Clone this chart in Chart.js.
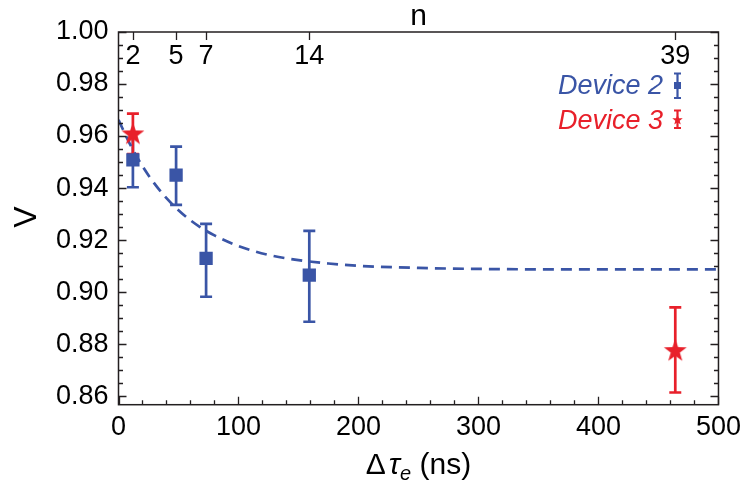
<!DOCTYPE html>
<html><head><meta charset="utf-8">
<script src="https://cdn.jsdelivr.net/npm/chart.js@4"></script>
<style>html,body{margin:0;padding:0;background:#fff}#wrap{width:748px;height:496px}</style>
</head><body><div id="wrap"><canvas id="c" width="748" height="496"></canvas></div>
<script>
// ---- data ----
const device2X  = [12, 48, 73, 159];
const device2V  = [0.9508, 0.9450, 0.9130, 0.9065];
const device2Lo = [0.9403, 0.9335, 0.8982, 0.8886];
const device2Hi = [0.9613, 0.9559, 0.9262, 0.9235];

const device3X  = [12, 464];
const device3V  = [0.9610, 0.8777];
const device3Lo = [0.9531, 0.8614];
const device3Hi = [0.9686, 0.8941];

const fitX = [0, 10, 20, 30, 40, 50, 60, 70, 80, 100, 125, 150, 175, 200, 250, 300, 400, 500];
const fitV = [0.9662, 0.9565, 0.9484, 0.9417, 0.9361, 0.9315, 0.9276, 0.9244, 0.9218, 0.9177, 0.9143, 0.9123, 0.9110, 0.9101, 0.9093, 0.9089, 0.9087, 0.9087];

const nLabels = ['2', '5', '7', '14', '39'];
const nX      = [12, 48, 73, 159, 464];

const xTicks = [0, 100, 200, 300, 400, 500];
const yTicks = [0.86, 0.88, 0.90, 0.92, 0.94, 0.96, 0.98, 1.00];

const legendNames = ['Device 2', 'Device 3'];

// ---- styling ----
const BLUE = '#3a55a6';
const RED = '#e8202a';
const AXIS = '#231f20';
const FONT = '"Liberation Sans", Arial, Helvetica, sans-serif';
const TICK_PX = 27;
const TITLE_PX = 30;

function starPath(ctx, cx, cy, R, r) {
  ctx.beginPath();
  for (let i = 0; i < 10; i++) {
    const a = -Math.PI / 2 + i * Math.PI / 5;
    const rad = (i % 2) ? r : R;
    ctx.lineTo(cx + rad * Math.cos(a), cy + rad * Math.sin(a));
  }
  ctx.closePath();
}
const starImg = document.createElement('canvas');
starImg.width = 26; starImg.height = 26;
(function () {
  const g = starImg.getContext('2d');
  g.fillStyle = RED;
  starPath(g, 13, 14, 12, 4.8);
  g.fill();
})();

const pts = (xs, ys) => xs.map((x, i) => ({ x: x, y: ys[i] }));

const framePlugin = {
  id: 'frame',
  beforeDatasetsDraw(chart) {
    const ctx = chart.ctx, xs = chart.scales.x, ys = chart.scales.y;
    const bars = [
      [device2X, device2Lo, device2Hi, BLUE],
      [device3X, device3Lo, device3Hi, RED]
    ];
    ctx.save();
    ctx.lineWidth = 2.7;
    ctx.lineCap = 'butt';
    bars.forEach(([X, L, H, col]) => {
      ctx.strokeStyle = col;
      X.forEach((xv, i) => {
        const px = xs.getPixelForValue(xv);
        const pl = ys.getPixelForValue(L[i]);
        const ph = ys.getPixelForValue(H[i]);
        ctx.beginPath();
        ctx.moveTo(px, pl); ctx.lineTo(px, ph);
        ctx.moveTo(px - 6, pl); ctx.lineTo(px + 6, pl);
        ctx.moveTo(px - 6, ph); ctx.lineTo(px + 6, ph);
        ctx.stroke();
      });
    });
    ctx.restore();
  },
  afterDraw(chart) {
    const ctx = chart.ctx, a = chart.chartArea, xs = chart.scales.x, ys = chart.scales.y;
    ctx.save();
    // frame
    ctx.strokeStyle = AXIS;
    ctx.lineWidth = 1.5;
    ctx.strokeRect(a.left, a.top, a.right - a.left, a.bottom - a.top);
    ctx.lineWidth = 1.3;
    ctx.beginPath();
    // y ticks (left and right), majors every 0.02, minors every 0.005
    for (let k = 0; k <= 29; k++) {
      const v = 0.855 + k * 0.005;
      if (v < ys.min - 1e-9 || v > ys.max + 1e-9) continue;
      const major = Math.abs(Math.round(v * 50) - v * 50) < 1e-6;
      const len = major ? 8 : 4.5;
      const py = Math.round(ys.getPixelForValue(v)) + 0.5;
      ctx.moveTo(a.left, py); ctx.lineTo(a.left + len, py);
      ctx.moveTo(a.right, py); ctx.lineTo(a.right - len, py);
    }
    // x ticks bottom, majors every 100, minors every 20
    for (let v = 0; v <= 500; v += 20) {
      const major = v % 100 === 0;
      const len = major ? 8 : 4.5;
      const px = Math.round(xs.getPixelForValue(v)) + 0.5;
      ctx.moveTo(px, a.bottom); ctx.lineTo(px, a.bottom - len);
    }
    // top n ticks
    nX.forEach(v => {
      const px = Math.round(xs.getPixelForValue(v)) + 0.5;
      ctx.moveTo(px, a.top); ctx.lineTo(px, a.top + 8);
    });
    ctx.stroke();

    // top n labels
    ctx.fillStyle = '#000';
    ctx.font = TICK_PX + 'px ' + FONT;
    ctx.textAlign = 'center';
    ctx.textBaseline = 'alphabetic';
    nLabels.forEach((t, i) => ctx.fillText(t, xs.getPixelForValue(nX[i]), 63.5));
    // top title n
    ctx.font = TITLE_PX + 'px ' + FONT;
    ctx.fillText('n', (a.left + a.right) / 2, 25);

    // x title  Δτ_e (ns)
    const parts = [
      { t: '\u0394', f: TITLE_PX + 'px ' + FONT, dy: 0, gap: 3 },
      { t: '\u03C4', f: 'italic ' + TITLE_PX + 'px ' + FONT, dy: 0, gap: 0 },
      { t: 'e', f: 'italic 20px ' + FONT, dy: 6, gap: 0 },
      { t: ' (ns)', f: TITLE_PX + 'px ' + FONT, dy: 0, gap: 0 }
    ];
    let total = 0;
    parts.forEach(p => { ctx.font = p.f; p.w = ctx.measureText(p.t).width; total += p.w + p.gap; });
    let x0 = (a.left + a.right) / 2 - total / 2;
    ctx.textAlign = 'left';
    parts.forEach(p => { ctx.font = p.f; ctx.fillText(p.t, x0, 474 + p.dy); x0 += p.w + p.gap; });

    // y title V
    ctx.save();
    ctx.translate(36, 217);
    ctx.rotate(-Math.PI / 2);
    ctx.font = '32px ' + FONT;
    ctx.textAlign = 'center';
    ctx.fillText('V', 0, 0);
    ctx.restore();

    // legend
    ctx.font = 'italic ' + TICK_PX + 'px ' + FONT;
    ctx.textAlign = 'right';
    ctx.fillStyle = BLUE;
    ctx.fillText(legendNames[0], 663, 94);
    ctx.fillStyle = RED;
    ctx.fillText(legendNames[1], 663, 128.5);
    const lx = 677.5;
    ctx.lineWidth = 2.2;
    ctx.strokeStyle = BLUE;
    ctx.beginPath();
    ctx.moveTo(lx, 73.5); ctx.lineTo(lx, 98);
    ctx.moveTo(lx - 3.5, 73.5); ctx.lineTo(lx + 3.5, 73.5);
    ctx.moveTo(lx - 3.5, 98); ctx.lineTo(lx + 3.5, 98);
    ctx.stroke();
    ctx.fillStyle = BLUE;
    ctx.fillRect(lx - 3.5, 82, 7, 7);
    ctx.strokeStyle = RED;
    ctx.beginPath();
    ctx.moveTo(lx, 110.5); ctx.lineTo(lx, 128);
    ctx.moveTo(lx - 3.5, 110.5); ctx.lineTo(lx + 3.5, 110.5);
    ctx.moveTo(lx - 3.5, 128); ctx.lineTo(lx + 3.5, 128);
    ctx.stroke();
    ctx.fillStyle = RED;
    starPath(ctx, lx, 120, 5.5, 2.3);
    ctx.fill();
    ctx.restore();
  }
};

new Chart(document.getElementById('c'), {
  type: 'scatter',
  data: {
    datasets: [
      {
        label: 'fit', data: pts(fitX, fitV), showLine: true, pointRadius: 0,
        borderColor: BLUE, borderWidth: 2.7, borderDash: [11, 7],
        cubicInterpolationMode: 'monotone', order: 3
      },
      {
        label: legendNames[0], data: pts(device2X, device2V), pointStyle: 'rect',
        pointRadius: 9.4, backgroundColor: BLUE, borderColor: BLUE, borderWidth: 0, order: 2
      },
      {
        label: legendNames[1], data: pts(device3X, device3V), pointStyle: starImg,
        pointRadius: 13, backgroundColor: RED, borderColor: RED, order: 1
      }
    ]
  },
  options: {
    responsive: false,
    animation: false,
    devicePixelRatio: 1,
    layout: { padding: { top: 32, right: 25.3, left: 0, bottom: 0 } },
    plugins: { legend: { display: false }, tooltip: { enabled: false } },
    scales: {
      x: {
        type: 'linear', min: 0, max: 500,
        grid: { display: false, drawTicks: false },
        border: { display: false },
        afterBuildTicks: s => { s.ticks = xTicks.map(v => ({ value: v })); },
        afterFit: s => { s.height = 91.3; },
        ticks: { color: '#000', font: { family: FONT, size: TICK_PX }, padding: 7, maxRotation: 0, autoSkip: false }
      },
      y: {
        type: 'linear', min: 0.8567, max: 1.0,
        grid: { display: false, drawTicks: false },
        border: { display: false },
        afterBuildTicks: s => { s.ticks = yTicks.map(v => ({ value: v })); },
        afterFit: s => { s.width = 118.5; },
        ticks: { color: '#000', font: { family: FONT, size: TICK_PX }, padding: 10, autoSkip: false,
                 callback: v => Number(v).toFixed(2) }
      }
    }
  },
  plugins: [framePlugin]
});
</script>
</body></html>
